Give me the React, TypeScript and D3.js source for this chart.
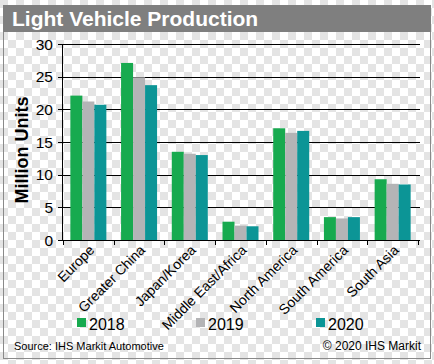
import * as React from 'react';
import { scaleBand, scaleLinear } from 'd3';

const regions = ['Europe', 'Greater China', 'Japan/Korea', 'Middle East/Africa', 'North America', 'South America', 'South Asia'];
const years = ['2018', '2019', '2020'];
const v2018 = [22.1, 27.1, 13.5, 2.8, 17.1, 3.5, 9.3];
const v2019 = [21.2, 24.9, 13.2, 2.2, 16.4, 3.3, 8.6];
const v2020 = [20.7, 23.7, 13.0, 2.1, 16.7, 3.5, 8.5];
const yTicks = [0, 5, 10, 15, 20, 25, 30];

const colors = ['#17aa4f', '#b4b4b6', '#0c9596'];
const series = [v2018, v2019, v2020];

const W = 434, H = 364;
const font = 'Arial, "Liberation Sans", Helvetica, sans-serif';

export default function App() {
  const x = scaleBand().domain(regions).range([63, 418]).paddingInner(0).paddingOuter(0);
  const y = scaleLinear().domain([0, 30]).range([240, 44]);
  const barW = 12;
  const groupW = barW * 3;

  return (
    <svg width={W} height={H} viewBox={`0 0 ${W} ${H}`}
      style={{ position: 'absolute', left: 0, top: 0, fontFamily: font }}>
      <defs>
        <pattern id="chk" width={16} height={16} patternUnits="userSpaceOnUse">
          <rect width={16} height={16} fill="#ffffff" />
          <rect width={8} height={8} fill="#e4e4e4" />
          <rect x={8} y={8} width={8} height={8} fill="#e4e4e4" />
        </pattern>
      </defs>
      <rect width={W} height={H} fill="url(#chk)" />

      {/* frame */}
      <rect x={3.5} y={5.5} width={427} height={353} fill="none" stroke="#8a8a8a" strokeWidth={1} />
      <rect x={3} y={5} width={428} height={27} fill="#7f7f7f" />
      <text x={12} y={26} fill="#fff" fontSize={21} fontWeight="bold">Light Vehicle Production</text>

      {/* gridlines */}
      {yTicks.filter(t => t > 0).map(t => (
        <line key={t} x1={62} x2={420} y1={Math.round(y(t)) + 0.5} y2={Math.round(y(t)) + 0.5} stroke="#000" strokeWidth={1} />
      ))}

      {/* bars */}
      {regions.map((r, i) => {
        const x0 = (x(r) ?? 0) + (x.bandwidth() - groupW) / 2;
        return series.map((s, k) => (
          <rect key={r + k} x={x0 + k * barW} y={y(s[i])} width={barW} height={y(0) - y(s[i])} fill={colors[k]} />
        ));
      })}

      {/* axes */}
      <line x1={62.5} x2={62.5} y1={44} y2={241} stroke="#000" />
      <line x1={62} x2={420} y1={240.5} y2={240.5} stroke="#000" />
      {yTicks.map(t => (
        <g key={t}>
          <line x1={58} x2={62} y1={Math.round(y(t)) + 0.5} y2={Math.round(y(t)) + 0.5} stroke="#000" />
          <text x={53} y={y(t) + 5.5} textAnchor="end" fontSize={15.5}>{t}</text>
        </g>
      ))}
      {[...regions.map(r => x(r) ?? 0), 418].map((px, i) => (
        <line key={i} x1={Math.round(px) + 0.5} x2={Math.round(px) + 0.5} y1={240} y2={245} stroke="#000" />
      ))}
      {regions.map(r => {
        const cx = (x(r) ?? 0) + x.bandwidth() / 2 + 7;
        return (
          <text key={r} transform={`translate(${cx},251) rotate(-45)`} textAnchor="end" fontSize={14}>{r}</text>
        );
      })}

      <text transform="translate(28,150) rotate(-90)" textAnchor="middle" fontSize={18} fontWeight="bold">Million Units</text>

      {/* legend */}
      {years.map((yr, k) => {
        const lx = [77, 196, 316][k];
        return (
          <g key={yr}>
            <rect x={lx} y={318} width={9} height={9} fill={colors[k]} />
            <text x={lx + 12} y={330} fontSize={16}>{yr}</text>
          </g>
        );
      })}

      <text x={14} y={350} fontSize={11}>Source: IHS Markit Automotive</text>
      <text x={421} y={350} fontSize={12} textAnchor="end">© 2020 IHS Markit</text>
    </svg>
  );
}
